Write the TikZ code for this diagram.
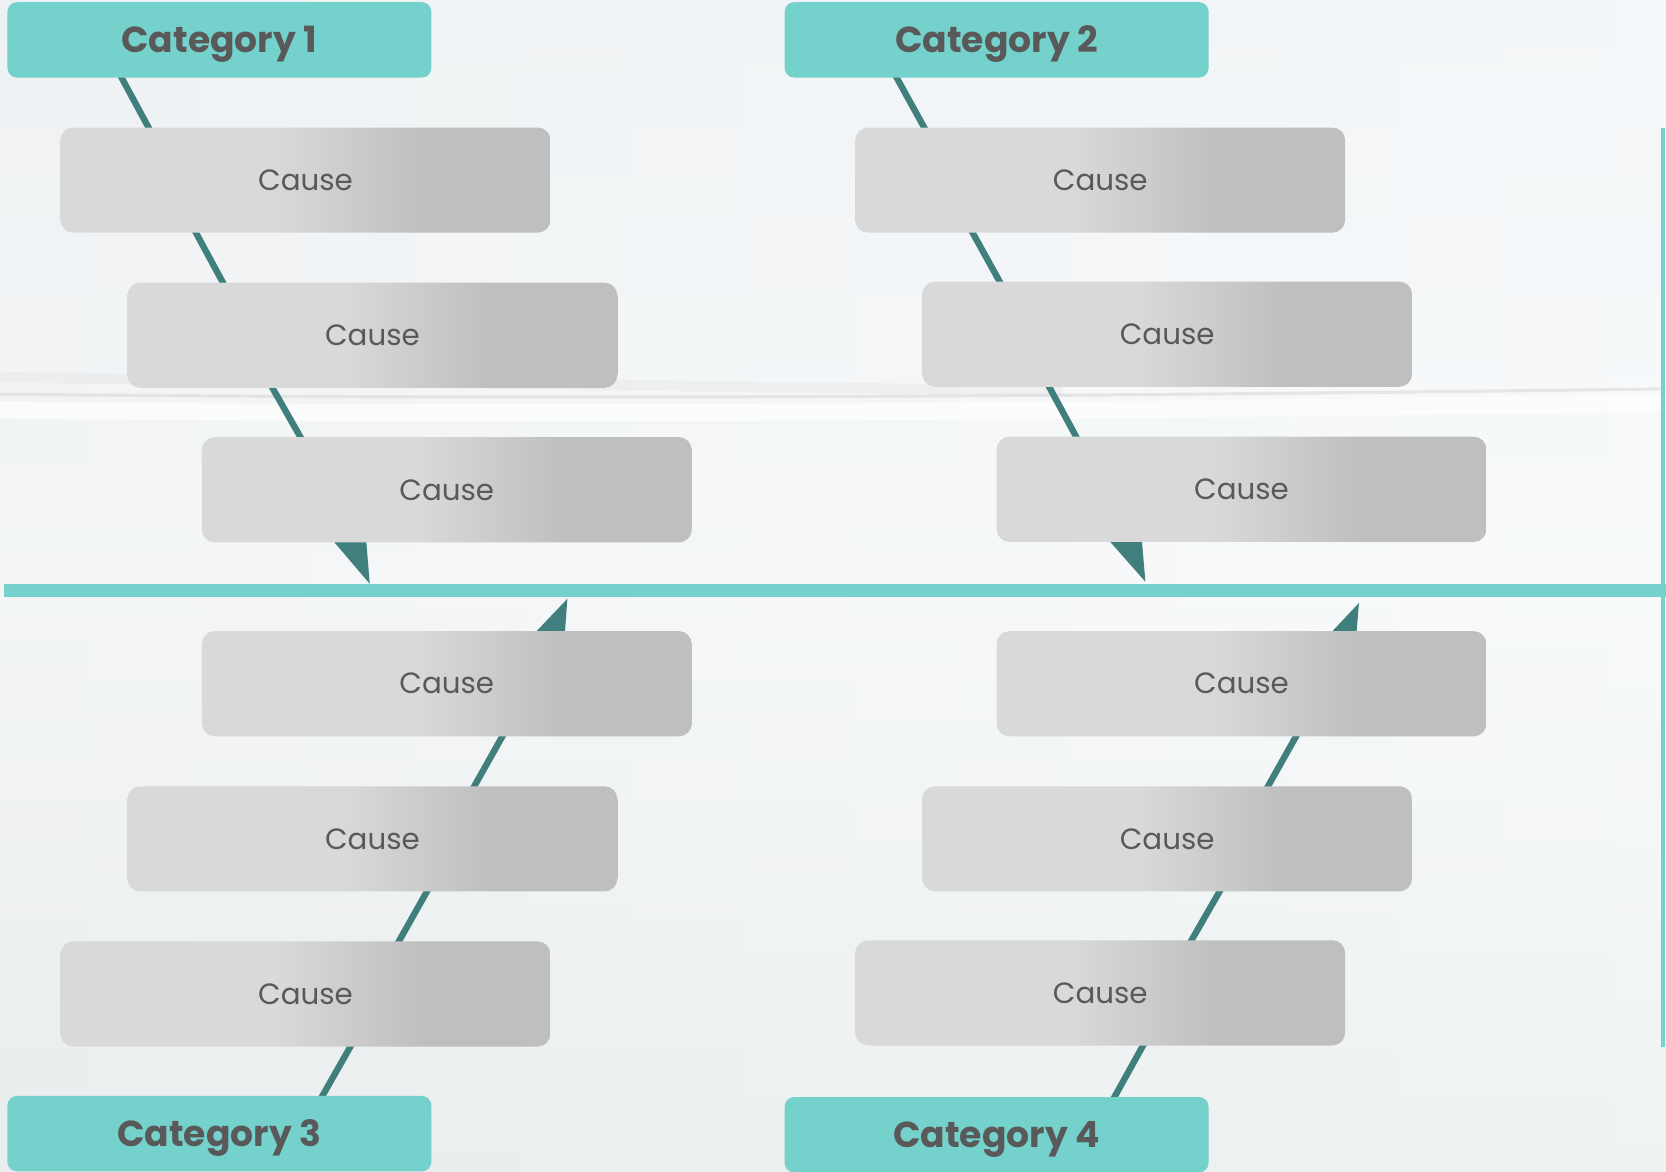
\documentclass[tikz,border=0pt]{standalone}
\usepackage{fontspec}
\setmainfont{Poppins}
\usetikzlibrary{calc}
\definecolor{catfill}{HTML}{75D1CB}
\definecolor{bonecol}{HTML}{417F7E}
\definecolor{txtcol}{HTML}{595959}
\definecolor{cleft}{HTML}{D9D9D9}
\definecolor{cright}{HTML}{BFBFBF}
\definecolor{bgtop}{HTML}{EEF3F6}
\definecolor{bgmid}{HTML}{F5F8FA}
\definecolor{bgbot}{HTML}{E6ECEC}
\pgfdeclarehorizontalshading{causeshade}{100bp}{color(0bp)=(cleft); color(47bp)=(cleft); color(62bp)=(cright); color(100bp)=(cright)}
\pgfdeclarelayer{bglayer}
\pgfdeclarelayer{linelayer}
\pgfsetlayers{bglayer,linelayer,main}
\tikzset{
  causebox/.style={rectangle, rounded corners=6pt, shading=causeshade, minimum width=230.5pt, minimum height=49.5pt, inner sep=0pt, text height=9.6pt, text depth=0pt, text=txtcol, font=\fontsize{13.8}{16}\selectfont},
  catbox/.style={rectangle, rounded corners=4.5pt, fill=catfill, minimum width=199.5pt, minimum height=35.5pt, inner sep=0pt, text height=12pt, text depth=0pt, text=txtcol, font=\bfseries\fontsize{17}{20}\selectfont},
  boneline/.style={draw=bonecol, line width=3pt, shorten <=-2pt, shorten >=-2pt},
  wedgefill/.style={fill=bonecol},
}
\begin{document}
\begin{tikzpicture}[x=0.5pt,y=-0.5pt]
\useasboundingbox (0,0) rectangle (1568,1103);
% nodes
\node[catbox] (cat1) at (206.5,37.5) {Category 1};
\node[catbox] (cat2) at (938,37.5) {Category 2};
\node[catbox] (cat3) at (206.5,1067) {Category 3};
\node[catbox] (cat4) at (938,1068) {Category 4};
\node[causebox] (a1) at (287.5,169.5) {Cause};
\node[causebox] (a2) at (350.5,315.5) {Cause};
\node[causebox] (a3) at (420.5,461) {Cause};
\node[causebox] (b1) at (1035.5,169.5) {Cause};
\node[causebox] (b2) at (1098.5,314.5) {Cause};
\node[causebox] (b3) at (1168.5,460.5) {Cause};
\node[causebox] (c1) at (420.5,643.5) {Cause};
\node[causebox] (c2) at (350.5,789.5) {Cause};
\node[causebox] (c3) at (287.5,935.5) {Cause};
\node[causebox] (d1) at (1168.5,643.5) {Cause};
\node[causebox] (d2) at (1098.5,789.5) {Cause};
\node[causebox] (d3) at (1035.5,934.5) {Cause};
\coordinate (sp0) at (3.5,555.7);
\coordinate (sp1) at (1568,555.7);
\coordinate (vl0) at (1565,120);
\coordinate (vl1) at (1565,985);
\coordinate (t1) at (348,549.5);
\coordinate (t2) at (1078,547.5);
\coordinate (t3) at (534,563.5);
\coordinate (t4) at (1279,567.5);
% background
\begin{pgfonlayer}{bglayer}
\shade[top color=bgtop, bottom color=bgbot, middle color=bgmid] (0,0) rectangle (1568,1103);
\shade[left color=black!6, right color=white, opacity=0.35] (0,0) rectangle (1568,1103);
\draw[line width=5pt, color=black!12, opacity=0.3] (0,355) .. controls (400,360) and (700,364) .. (1000,368);
\draw[line width=1.5pt, color=black!20, opacity=0.4] (0,371) .. controls (600,377) and (1100,372) .. (1568,366);
\draw[line width=8pt, white, opacity=0.7] (0,386) .. controls (600,392) and (1100,386) .. (1568,379);
\draw[catfill, line width=5.75pt] (sp0) -- (sp1);
\draw[catfill, line width=2pt] (vl0) -- (vl1);
\end{pgfonlayer}
% bones
\begin{pgfonlayer}{linelayer}
\draw[boneline] ($(cat1.south west)+(108,0)$) -- ($(a1.north west)+(83,0)$);
\draw[boneline] ($(a1.south west)+(128,0)$) -- ($(a2.north west)+(90,0)$);
\draw[boneline] ($(a2.south west)+(137,0)$) -- ($(a3.north west)+(93,0)$);
\fill[wedgefill] ($(a3.south west)+(123,-3)$) -- ($(a3.south west)+(155,-3)$) -- (t1) -- cycle;
\draw[boneline] ($(cat2.south west)+(106,0)$) -- ($(b1.north west)+(65,0)$);
\draw[boneline] ($(b1.south west)+(111,0)$) -- ($(b2.north west)+(73,0)$);
\draw[boneline] ($(b2.south west)+(120,0)$) -- ($(b3.north west)+(75,0)$);
\fill[wedgefill] ($(b3.south west)+(105,-3)$) -- ($(b3.south west)+(137,-3)$) -- (t2) -- cycle;
\fill[wedgefill] ($(c1.north west)+(313,3)$) -- ($(c1.north west)+(342,3)$) -- (t3) -- cycle;
\draw[boneline] ($(c1.south west)+(283,0)$) -- ($(c2.north west)+(327,0)$);
\draw[boneline] ($(c2.south west)+(282,0)$) -- ($(c3.north west)+(319,0)$);
\draw[boneline] ($(c3.south west)+(273,0)$) -- ($(cat3.north west)+(297,0)$);
\fill[wedgefill] ($(d1.north west)+(314,3)$) -- ($(d1.north west)+(339,3)$) -- (t4) -- cycle;
\draw[boneline] ($(d1.south west)+(282,0)$) -- ($(d2.north west)+(326,0)$);
\draw[boneline] ($(d2.south west)+(280,0)$) -- ($(d3.north west)+(317,0)$);
\draw[boneline] ($(d3.south west)+(271,0)$) -- ($(cat4.north west)+(311,0)$);
\end{pgfonlayer}
\end{tikzpicture}
\end{document}
